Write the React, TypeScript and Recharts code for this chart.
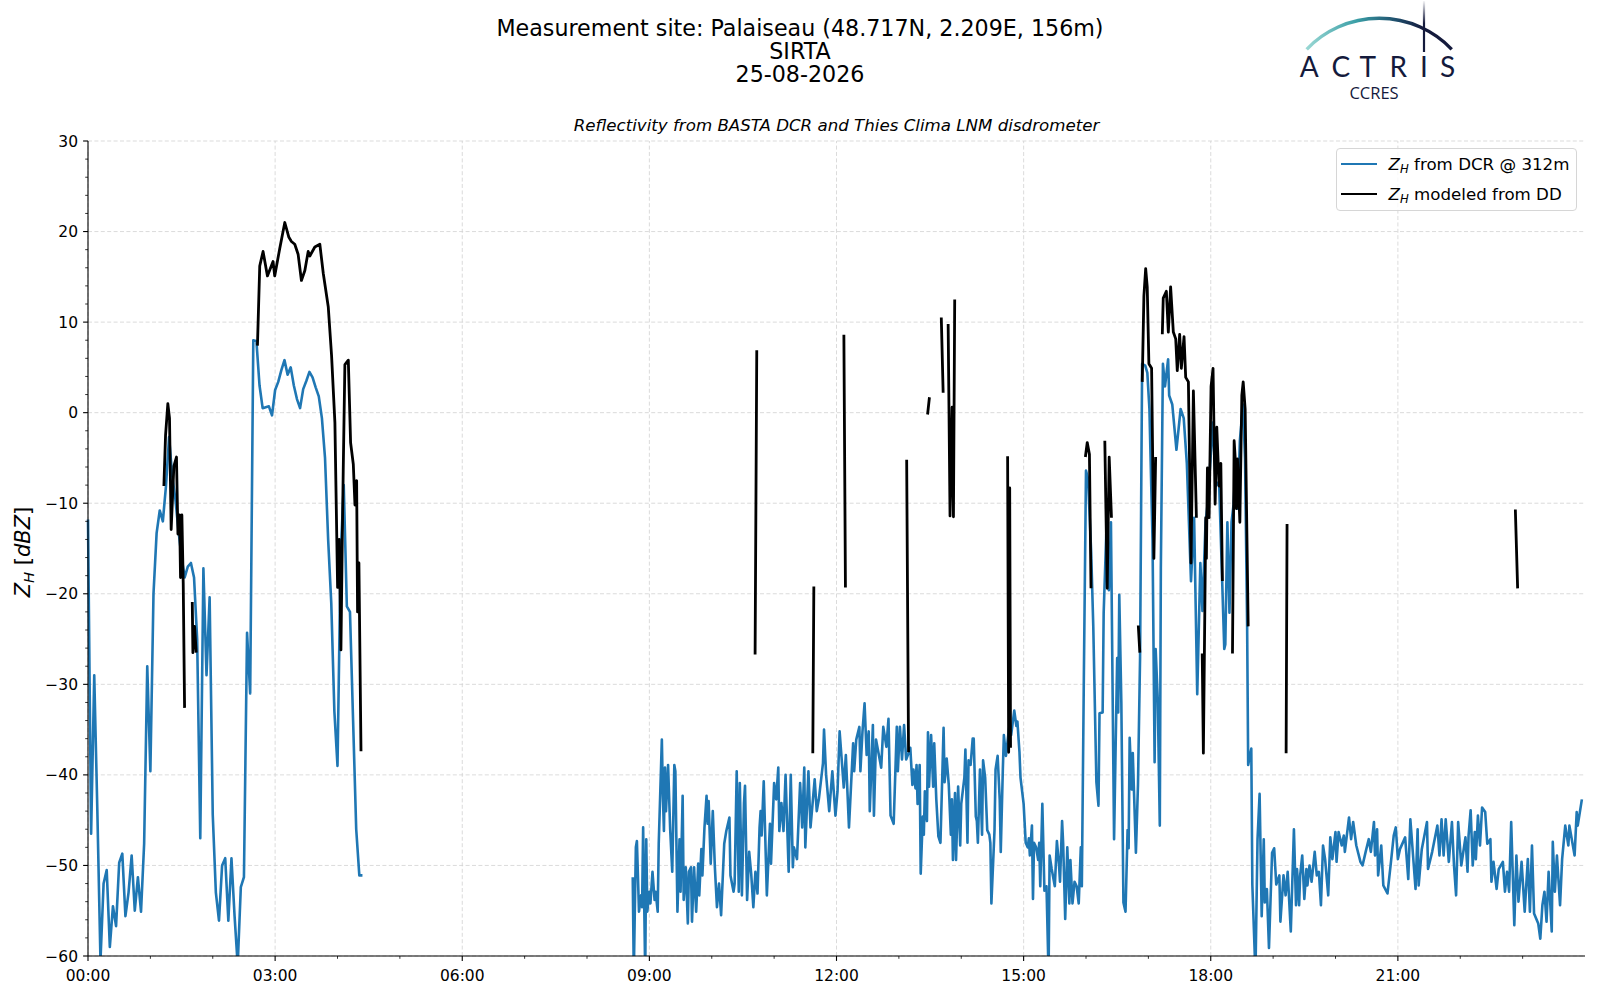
import React from 'react';
import { LineChart, Line, XAxis, YAxis, ReferenceLine } from 'recharts';

const FONT = '"DejaVu Sans", sans-serif';
const NAVY = '#141a3c';

// DCR Zh at 312 m, night rain: one value every 3 minutes from 00:00
const dcrNightStep = 3;
const dcrNightZh = [
  -11.8, -46.5, -29, -44, -60.5, -52, -50.5, -59, -54.5, -56.7,
  -49.7, -48.7, -55.6, -53, -48.9, -55, -51.3, -55.1, -47.6, -28,
  -39.6, -20, -13.3, -10.8, -12, -8.1, -2.7, -7, -9.5, -13,
  -16, -18.2, -17, -16.6, -18.2, -25, -47, -17.2, -29, -20.4,
  -44.4, -53, -56.1, -50, -49.2, -56.1, -49.2, -55.6, -61, -52.4,
  -51.3, -24.3, -31, 8, 7.9, 3, 0.5, 0.6, 0.7, -0.3,
  2.5, 3.4, 4.7, 5.8, 4.2, 5, 3, 1.5, 0.5, 2.6,
  3.5, 4.5, 3.9, 2.8, 1.8, -0.6, -5, -14, -21, -33,
  -39, -16, -8, -21.4, -22, -34, -46, -51.1, -51.1,
];

// DCR Zh at 312 m from 08:44 on: [minute of day, dBZ]
const dcrDay: [number, number][] = [
  [524, -51.3], [525, -62], [527, -48], [528, -47.3], [530, -55.1], [532, -53.3], [533, -54.6], [534, -45.8],
  [536, -62], [537, -47.1], [538, -55.1], [540, -52.9], [541, -54.2], [543, -50.7], [545, -53.8], [546, -52.9],
  [548, -55.1], [549, -47.6], [552, -36.1], [553, -42.3], [554, -46.2], [555, -39.2], [556, -44], [558, -38.9],
  [560, -46], [562, -50.7], [564, -38.9], [565, -39.6], [567, -55.1], [569, -47.1], [570, -52.9], [572, -42.3],
  [573, -53.8], [575, -50.2], [577, -56.4], [578, -50.7], [580, -50.2], [581, -56.2], [583, -50.2], [585, -55.1],
  [587, -49.8], [588, -53.3], [590, -48.2], [591, -51.1], [593, -45.8], [595, -42.3], [596, -45.4], [597, -42.9],
  [599, -49.8], [601, -44], [603, -50.2], [605, -54.6], [607, -52], [609, -55.5], [612, -47.6], [614, -46.2],
  [617, -44.7], [618, -51.1], [621, -52.9], [622, -52], [624, -39.6], [626, -52.9], [627, -40.9], [629, -53.3],
  [631, -43.1], [632, -41.2], [634, -53.8], [636, -48.5], [638, -51], [640, -54.6], [642, -50.7], [644, -53.1],
  [646, -45.8], [647, -44], [648, -46.7], [650, -40.7], [653, -53.3], [656, -45.4], [657, -49.8], [660, -40.9],
  [662, -42.7], [664, -39.2], [665, -46.2], [667, -43.1], [669, -46.2], [671, -40], [674, -50.7], [676, -40],
  [678, -50.2], [679, -48], [682, -49.3], [685, -40.9], [687, -45.8], [689, -39.2], [690, -48], [693, -39.6],
  [695, -45.8], [699, -40.5], [701, -44], [703, -42.7], [707, -38.7], [708, -35], [710, -40], [713, -44],
  [716, -39.6], [719, -44.5], [721, -41.8], [723, -35.2], [727, -41.4], [729, -37.8], [732, -45.8], [736, -36.5],
  [737, -39.6], [739, -36.1], [742, -34.7], [743, -39.6], [745, -35.2], [747, -32.1], [749, -37.8], [751, -35.2],
  [752, -44], [755, -34.5], [756, -44.5], [758, -36.1], [763, -39.2], [765, -34.7], [768, -36.9], [770, -33.8],
  [772, -44.5], [775, -45.4], [778, -34.7], [779, -39.6], [781, -34.7], [783, -38.3], [785, -34.5], [787, -38.3],
  [790, -37.4], [791, -37], [793, -41.1], [794, -39.4], [796, -41.5], [797, -38.9], [798, -43.2], [800, -38.9],
  [801, -50.9], [803, -44.6], [804, -46.6], [805, -41.8], [807, -45.1], [808, -35.3], [809, -41.3], [811, -35.6],
  [813, -41.3], [814, -36.5], [816, -42.7], [818, -46.8], [820, -47.5], [823, -34.8], [824, -40.8], [826, -38.2],
  [828, -41.1], [830, -46.6], [831, -42.7], [832, -49.4], [834, -42], [835, -49.4], [837, -41.3], [839, -47.8],
  [840, -43.2], [843, -40.3], [844, -37.2], [846, -47.5], [847, -38.4], [849, -38.9], [851, -36], [852, -36],
  [854, -44.6], [855, -45.1], [856, -47.5], [858, -39.4], [860, -46.6], [861, -38.4], [863, -40.3], [865, -46.1],
  [867, -46.6], [868, -47.5], [869, -54.2], [872, -46.1], [873, -39.4], [875, -37.9], [877, -42.7], [878, -48.5],
  [880, -39.4], [881, -35.6], [883, -37.9], [886, -34.8], [888, -35.6], [891, -32.9], [893, -34.6], [894, -34.1],
  [896, -37.5], [897, -40.3], [900, -43.2], [902, -47.5], [904, -48], [905, -47], [906, -48.9], [908, -45.6],
  [909, -53.7], [910, -47.5], [912, -48], [914, -49.4], [915, -47.5], [916, -52.3], [918, -43.2], [920, -52.8],
  [922, -52.3], [924, -62], [925, -48.9], [927, -50.4], [930, -52.3], [932, -47.3], [934, -49.9], [935, -51.8],
  [937, -45.1], [938, -47.5], [940, -55.9], [942, -48], [944, -54.2], [945, -49.4], [947, -54.2], [949, -51.8],
  [951, -52.3], [953, -54.2], [955, -48], [956, -52.3], [958, -28.4], [960, -6.4], [962, -7.3], [965, -15.5],
  [967, -23.6], [970, -40.8], [972, -43.4], [973, -33.2], [976, -33.1], [977, -22.1], [980, -11.6], [982, -19.6],
  [984, -12.1], [987, -47.1], [989, -33.6], [990, -27.1], [991, -33.1], [992, -20.1], [994, -32.1], [996, -54.1],
  [998, -55.1], [1000, -46.1], [1001, -48.1], [1002, -35.9], [1004, -41.6], [1005, -37.6], [1008, -48.6], [1010, -41.1],
  [1012, -27.1], [1014, 5.4], [1017, 5.2], [1019, 4.4], [1021, 0.4], [1024, -14.1], [1026, -38.6], [1027, -26.1],
  [1029, -31.6], [1031, -45.6], [1032, -17.1], [1034, 5.4], [1036, 2.9], [1039, 5.9], [1040, 1.9], [1043, 0.9],
  [1047, -4.1], [1051, 0.4], [1054, -0.6], [1057, -5.6], [1059, -12.1], [1061, -18.6], [1064, -11.6], [1067, -31.1],
  [1070, -16.6], [1072, -21.9], [1075, -12.1], [1077, -10.1], [1082, -1.1], [1085, -8.1], [1088, -7.6], [1091, -18.6],
  [1093, -26.1], [1094, -25.6], [1096, -12.1], [1098, -22.1], [1100, -12.1], [1102, -10.1], [1104, -5.6], [1106, -10.6],
  [1108, -3.1], [1111, 0.9], [1113, -5.1], [1115, -23.6], [1116, -38.9], [1119, -37.1], [1120, -52.1], [1123, -62],
  [1125, -47.1], [1127, -42.1], [1129, -55.6], [1131, -47.1], [1132, -54.1], [1134, -52.6], [1136, -59.1], [1139, -48.6],
  [1141, -48.1], [1143, -52.1], [1146, -51.1], [1147, -56.2], [1150, -51.1], [1152, -53.3], [1154, -50.7], [1157, -57.3],
  [1160, -46], [1162, -54.4], [1163, -50.4], [1165, -54.4], [1166, -51.1], [1168, -48.9], [1170, -53.7], [1172, -50.4],
  [1173, -52.2], [1175, -50], [1177, -51.8], [1180, -48.5], [1182, -51.1], [1184, -50.7], [1186, -54.4], [1188, -47.8],
  [1190, -49.3], [1193, -53.3], [1195, -46.9], [1197, -49.3], [1200, -46.3], [1201, -49.6], [1203, -46.3], [1206, -47.8],
  [1208, -46.7], [1209, -48.5], [1213, -44.7], [1215, -47.1], [1217, -45.2], [1220, -47.8], [1224, -49.6], [1226, -50],
  [1229, -48.5], [1232, -47.1], [1234, -48.5], [1237, -45.2], [1238, -48.9], [1240, -46], [1241, -51.1], [1244, -47.8],
  [1246, -52.2], [1250, -53.1], [1253, -50], [1256, -46.7], [1258, -45.8], [1260, -49.3], [1262, -48.2], [1267, -46.9],
  [1270, -51.5], [1272, -44.9], [1277, -52.6], [1279, -46], [1280, -52.2], [1283, -48.2], [1288, -45.2], [1289, -50.4],
  [1293, -48.5], [1298, -45.6], [1300, -48.9], [1302, -44.9], [1304, -48.9], [1306, -44.9], [1309, -49.6], [1312, -45.2],
  [1314, -50], [1316, -53.3], [1318, -45.2], [1321, -50], [1325, -46.9], [1327, -50.7], [1328, -46.7], [1330, -43.9],
  [1332, -50], [1334, -46.3], [1335, -49.3], [1337, -44.5], [1339, -47.8], [1341, -43.6], [1344, -44.1], [1346, -47.6],
  [1349, -47.1], [1350, -51.8], [1352, -49.6], [1355, -52.6], [1357, -50.4], [1361, -49.6], [1363, -52.9], [1365, -50.7],
  [1367, -52.9], [1369, -45.2], [1372, -56.6], [1374, -48.9], [1376, -54], [1379, -49.6], [1382, -55.1], [1385, -49.3],
  [1387, -55.1], [1389, -47.8], [1391, -55.3], [1395, -56.4], [1397, -58.1], [1399, -54.4], [1401, -52.9], [1403, -56.2],
  [1405, -50.7], [1408, -57.3], [1409, -47.4], [1411, -52.9], [1413, -48.9], [1416, -54.4], [1418, -49.3], [1421, -45.6],
  [1424, -47.8], [1425, -45.6], [1430, -48.9], [1432, -44.1], [1433, -45.6], [1437, -42.7],
];

// Zh modeled from the disdrometer, one block per rain spell: [minute of day, dBZ]
const ddSegments: [number, number][][] = [
  [[73, -8.1], [74.6, -2.5], [76.8, 1.0], [78.4, -0.6], [80, -12.9], [82.6, -5.9], [85.1, -4.9], [86.5, -13.4],
   [88.1, -11.3], [89, -18.2], [90.3, -11.3], [91.6, -18.8], [92.9, -32.6]],
  [[100.3, -20.9], [100.9, -26.5], [102.5, -23.6], [104.1, -26.5]],
  [[163, 7.4], [165.2, 16.2], [168.4, 17.8], [172.6, 15.1], [178, 16.7], [179.6, 15.1], [184.4, 18.1], [189.3, 21.0],
   [193.1, 19.4], [195.7, 18.9], [198.9, 18.6], [202.1, 17.5], [205.3, 14.6], [208.6, 15.7], [211.8, 17.8], [213.4, 17.3],
   [218.2, 18.3], [223, 18.6], [226.3, 15.4], [231.1, 11.7], [234.3, 6.3], [237.5, -1.1], [240.1, -19.3], [241.7, -14],
   [243.3, -26.2], [244.6, -14], [245.5, -6.5], [247.1, 5.3], [250.4, 5.8], [252.6, -3.3], [255.2, -5.7], [256.8, -10.2],
   [258.4, -7.5], [259.3, -22], [260.6, -16.6], [262.6, -37.4]],
  [[641.7, -26.7], [643.3, 6.9]],
  [[697.2, -37.6], [698.2, -19.2]],
  [[727.1, 8.6], [728.6, -19.3]],
  [[787.5, -5.2], [789.3, -37.5]],
  [[807.6, -0.2], [809.4, 1.7]],
  [[820.8, 10.5], [822.6, 2.2]],
  [[827.4, 9.8], [829.2, -11.4], [831.2, 0.6], [832.5, -11.5], [833.7, 12.5]],
  [[884.6, -4.8], [885.6, -37.5], [886.6, -8.3], [887.4, -37]],
  [[959.4, -4.9], [961.2, -3.3], [963.3, -4.6], [964.8, -19.4]],
  [[978.1, -3.1], [980.4, -19.4], [982.3, -4.9], [984.5, -11.6]],
  [[1010.3, -23.5], [1011.8, -26.5]],
  [[1014.1, 3.4], [1015.7, 12.9], [1017.4, 15.9], [1018.9, 13.9], [1020.5, 5.4], [1023.1, 4.9], [1025.3, -16.1], [1027, -4.9]],
  [[1033.4, 8.65], [1034.3, 12.65], [1037.3, 13.4], [1039.2, 8.9], [1041.4, 13.9], [1044, 8.9], [1046.3, 8.15], [1047.8, 4.65],
   [1050.1, 8.65], [1051.7, 4.9], [1054.3, 8.4], [1055.9, 3.9], [1058.5, 3.4], [1061, -16.6], [1063.3, 2.4], [1066.2, -11.6]],
  [[1071.8, -26.6], [1072.9, -37.6], [1075.2, -11.6], [1075.8, -16.1], [1076.8, -6.1], [1078.4, -11.6], [1080.3, 2.9],
   [1082.2, 4.9], [1084.2, -10.1], [1085.8, -1.6], [1088, -8.1], [1089.7, -5.6], [1091.2, -18.6]],
  [[1100.9, -26.6], [1102.5, -3.1], [1104.1, -6.1], [1104.7, -10.6], [1105.7, -5.1], [1108, -12.1], [1109.9, 1.9],
   [1111.2, 3.4], [1113.1, 0.4], [1116, -23.6]],
  [[1152.5, -37.6], [1153.4, -12.3]],
  [[1373, -10.7], [1375.2, -19.4]],
];

const majorTimeTicks = [0, 180, 360, 540, 720, 900, 1080, 1260];
const zhTicks = [-60, -50, -40, -30, -20, -10, 0, 10, 20, 30];

const titleLines = ['Measurement site: Palaiseau (48.717N, 2.209E, 156m)', 'SIRTA', '25-08-2026'];
const subtitle = 'Reflectivity from BASTA DCR and Thies Clima LNM disdrometer';
const legendItems = [
  { color: '#1f77b4', rest: ' from DCR @ 312m' },
  { color: '#000000', rest: ' modeled from DD' },
];

// hourly minor ticks on x, every 2 dBZ on y
const timeTicks: number[] = [];
for (let h = 0; h < 24; h++) timeTicks.push(h * 60);
const zhAllTicks: number[] = [];
for (let z = -60; z <= 30; z += 2) zhAllTicks.push(z);

const dcrData = [
  ...dcrNightZh.map((v, i) => ({ t: i * dcrNightStep, v })),
  { t: 266, v: null },
  ...dcrDay.map(([t, v]) => ({ t, v })),
];

const ddData = ddSegments.flatMap((seg) => [
  ...seg.map(([t, v]) => ({ t, v })),
  { t: seg[seg.length - 1][0], v: null },
]);

const pad2 = (n: number) => String(n).padStart(2, '0');
const fmtTime = (m: number) => `${pad2(Math.floor(m / 60))}:${pad2(m % 60)}`;

const TimeTick = (props: any) => {
  const { x, y, payload } = props;
  const major = payload.value % 180 === 0;
  return (
    <g>
      <line x1={x} x2={x} y1={y} y2={y + (major ? 4.9 : 2.8)} stroke="#000" strokeWidth={major ? 1.1 : 0.8} />
      {major && (
        <text x={x} y={y + 25} textAnchor="middle" fontSize={15.5} fontFamily={FONT} fill="#000">
          {fmtTime(payload.value)}
        </text>
      )}
    </g>
  );
};

const ZhTick = (props: any) => {
  const { x, y, payload } = props;
  const major = payload.value % 10 === 0;
  return (
    <g>
      <line x1={x - (major ? 4.9 : 2.8)} x2={x} y1={y} y2={y} stroke="#000" strokeWidth={major ? 1.1 : 0.8} />
      {major && (
        <text x={x - 10} y={y + 5.6} textAnchor="end" fontSize={15.5} fontFamily={FONT} fill="#000">
          {String(payload.value).replace('-', '\u2212')}
        </text>
      )}
    </g>
  );
};

const ZhLabel = () => (
  <>
    <i>Z</i>
    <span style={{ fontSize: '0.7em', fontStyle: 'italic', position: 'relative', top: '0.3em' }}>H</span>
  </>
);

const Logo = () => (
  <svg width={200} height={110} style={{ position: 'absolute', left: 1270, top: 0 }}>
    <defs>
      <linearGradient id="arcGrad" gradientUnits="userSpaceOnUse" x1={36} y1={0} x2={182} y2={0}>
        <stop offset="0" stopColor="#9ad8d4" />
        <stop offset="0.35" stopColor="#3a9ea6" />
        <stop offset="0.62" stopColor="#1f4e6c" />
        <stop offset="0.8" stopColor={NAVY} />
      </linearGradient>
      <linearGradient id="barGrad" gradientUnits="userSpaceOnUse" x1={0} y1={0} x2={0} y2={52}>
        <stop offset="0" stopColor={NAVY} stopOpacity={0} />
        <stop offset="0.45" stopColor={NAVY} stopOpacity={1} />
      </linearGradient>
    </defs>
    <path d="M36.7,49.3 A100.3,100.3 0 0 1 181.7,49.3" fill="none" stroke="url(#arcGrad)" strokeWidth={3.4} />
    <line x1={154} x2={154} y1={1} y2={52} stroke="url(#barGrad)" strokeWidth={2.2} />
    {[['A', 39.2], ['C', 70.8], ['T', 97.8], ['R', 128.3], ['I', 154], ['S', 177.5]].map(([ch, cx]) => (
      <text key={ch as string} x={cx as number} y={77.3} textAnchor="middle" fontSize={28} fontFamily="Lato, sans-serif" fill={NAVY}>
        {ch}
      </text>
    ))}
    <text x={104} y={99.3} textAnchor="middle" fontSize={16.5} fontFamily='"Open Sans", sans-serif' fill={NAVY}>
      CCRES
    </text>
  </svg>
);

export default function App() {
  return (
    <div style={{ position: 'fixed', left: 0, top: 0, width: 1600, height: 1000, background: '#fff', overflow: 'hidden', fontFamily: FONT, color: '#000' }}>
      <div style={{ position: 'absolute', left: 0, top: 17, width: 1600, textAlign: 'center', fontSize: 22.2, lineHeight: '23px' }}>
        {titleLines.map((l) => (
          <div key={l}>{l}</div>
        ))}
      </div>
      <div style={{ position: 'absolute', left: 88, top: 116, width: 1497, textAlign: 'center', fontSize: 16.67, lineHeight: '20px', fontStyle: 'italic' }}>
        {subtitle}
      </div>
      <Logo />

      <div style={{ position: 'absolute', left: 0, top: 0 }}>
        <LineChart width={1600} height={1000} margin={{ top: 141, right: 15, bottom: 14, left: 28 }}>
          <XAxis
            dataKey="t"
            type="number"
            domain={[0, 1440]}
            ticks={timeTicks}
            interval={0}
            tick={<TimeTick />}
            tickLine={false}
            tickSize={0}
            tickMargin={0}
            height={30}
            axisLine={{ stroke: '#000', strokeWidth: 1.1 }}
          />
          <XAxis xAxisId="top" orientation="top" type="number" domain={[0, 1440]} tick={false} tickLine={false} height={0} axisLine={{ stroke: '#000', strokeWidth: 1.1 }} />
          <YAxis
            type="number"
            domain={[-60, 30]}
            allowDataOverflow
            ticks={zhAllTicks}
            interval={0}
            tick={<ZhTick />}
            tickLine={false}
            tickSize={0}
            tickMargin={0}
            width={60}
            axisLine={{ stroke: '#000', strokeWidth: 1.1 }}
          />
          <YAxis yAxisId="right" orientation="right" type="number" domain={[-60, 30]} tick={false} tickLine={false} width={0} axisLine={{ stroke: '#000', strokeWidth: 1.1 }} />

          {majorTimeTicks.map((t) => (
            <ReferenceLine key={`gx${t}`} x={t} stroke="#d2d2d2" strokeWidth={0.8} strokeDasharray="4 2.4" />
          ))}
          {zhTicks.map((z) => (
            <ReferenceLine key={`gy${z}`} y={z} stroke="#d2d2d2" strokeWidth={0.8} strokeDasharray="4 2.4" />
          ))}

          <Line data={dcrData} dataKey="v" type="linear" stroke="#1f77b4" strokeWidth={2.6} strokeLinejoin="round" dot={false} activeDot={false} connectNulls={false} isAnimationActive={false} />
          <Line data={ddData} dataKey="v" type="linear" stroke="#000000" strokeWidth={2.8} strokeLinejoin="round" dot={false} activeDot={false} connectNulls={false} isAnimationActive={false} />
        </LineChart>
      </div>

      <div style={{ position: 'absolute', left: 24, top: 552, transform: 'translate(-50%, -50%) rotate(-90deg)', whiteSpace: 'nowrap', fontSize: 21, lineHeight: '24px' }}>
        <ZhLabel /> [<i>dBZ</i>]
      </div>

      <div style={{ position: 'absolute', left: 1336, top: 148, width: 241, height: 63, boxSizing: 'border-box', border: '1px solid #d6d6d6', borderRadius: 4, background: 'rgba(255,255,255,0.8)' }}>
        {legendItems.map((it, i) => (
          <div key={it.rest} style={{ position: 'absolute', left: 4, top: 15.3 + i * 29.7 - 12, height: 24, display: 'flex', alignItems: 'center', whiteSpace: 'nowrap' }}>
            <span style={{ display: 'inline-block', width: 36, borderTop: `2.6px solid ${it.color}` }} />
            <span style={{ marginLeft: 11.6, fontSize: 16.67 }}>
              <ZhLabel />
              {it.rest}
            </span>
          </div>
        ))}
      </div>
    </div>
  );
}
